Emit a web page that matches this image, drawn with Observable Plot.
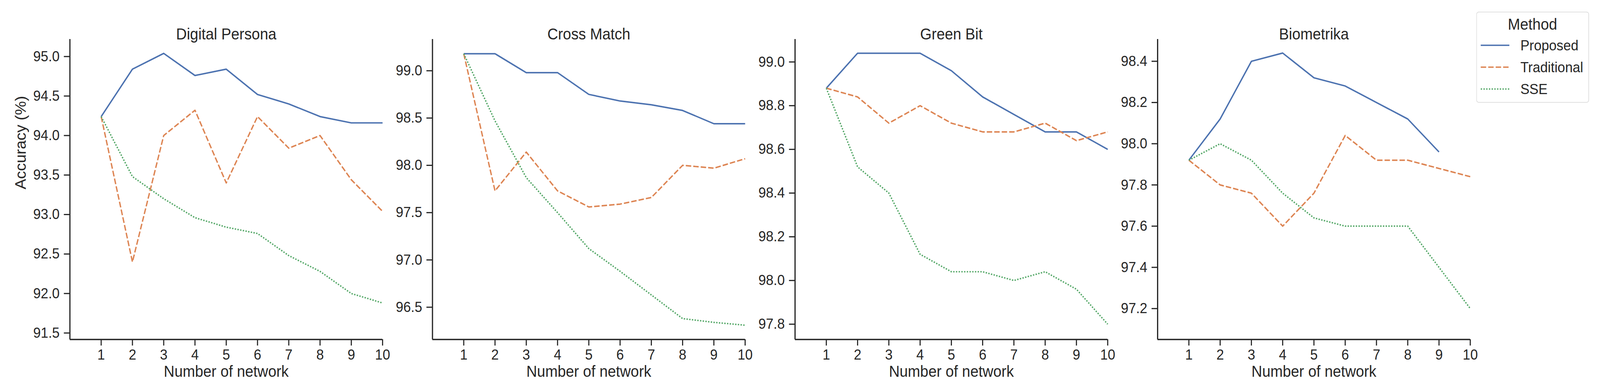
<!DOCTYPE html>
<html><head><meta charset="utf-8">
<script src="https://cdn.jsdelivr.net/npm/d3@7"></script>
<script src="https://cdn.jsdelivr.net/npm/@observablehq/plot@0.6"></script>
<style>
html,body{margin:0;background:#fff;overflow:hidden;}
#wrap{position:relative;width:4360px;height:1004px;overflow:hidden;font-family:"Liberation Sans",Arial,sans-serif;color:#262626;background:#fff;transform-origin:0 0;}
#wrap svg{position:absolute;top:0;}
</style></head>
<body><div id="wrap"></div>
<script>
// ---- data ----
const networks = [1, 2, 3, 4, 5, 6, 7, 8, 9, 10];
const methods = ["Proposed", "Traditional", "SSE"];
const panelTitles = ["Digital Persona", "Cross Match", "Green Bit", "Biometrika"];

const dpProposed    = [94.24, 94.84, 95.04, 94.76, 94.84, 94.52, 94.40, 94.24, 94.16, 94.16];
const dpTraditional = [94.24, 92.40, 94.00, 94.32, 93.40, 94.24, 93.84, 94.00, 93.44, 93.04];
const dpSSE         = [94.24, 93.48, 93.20, 92.96, 92.84, 92.76, 92.48, 92.28, 92.00, 91.88];

const cmProposed    = [99.18, 99.18, 98.98, 98.98, 98.75, 98.68, 98.64, 98.58, 98.44, 98.44];
const cmTraditional = [99.18, 97.73, 98.14, 97.73, 97.56, 97.59, 97.66, 98.00, 97.97, 98.07];
const cmSSE         = [99.18, 98.47, 97.87, 97.50, 97.12, 96.88, 96.63, 96.38, 96.34, 96.31];

const gbProposed    = [98.88, 99.04, 99.04, 99.04, 98.96, 98.84, 98.76, 98.68, 98.68, 98.60];
const gbTraditional = [98.88, 98.84, 98.72, 98.80, 98.72, 98.68, 98.68, 98.72, 98.64, 98.68];
const gbSSE         = [98.88, 98.52, 98.40, 98.12, 98.04, 98.04, 98.00, 98.04, 97.96, 97.80];

const bmProposed    = [97.92, 98.12, 98.40, 98.44, 98.32, 98.28, 98.20, 98.12, 97.96, null];
const bmTraditional = [97.92, 97.80, 97.76, 97.60, 97.76, 98.04, 97.92, 97.92, 97.88, 97.84];
const bmSSE         = [97.92, 98.00, 97.92, 97.76, 97.64, 97.60, 97.60, 97.60, 97.40, 97.20];

const dpTicks = [91.5, 92.0, 92.5, 93.0, 93.5, 94.0, 94.5, 95.0];
const cmTicks = [96.5, 97.0, 97.5, 98.0, 98.5, 99.0];
const gbTicks = [97.8, 98.0, 98.2, 98.4, 98.6, 98.8, 99.0];
const bmTicks = [97.2, 97.4, 97.6, 97.8, 98.0, 98.2, 98.4];

const dpDomain = [91.418, 95.219];
const cmDomain = [96.159, 99.333];
const gbDomain = [97.730, 99.104];
const bmDomain = [97.050, 98.507];

// ---- styles ----
const ink = "#262626";
const colors = ["#4C72B0", "#DD8452", "#55A868"];
const dashes = [null, "14.8,5.55", "3.7,3.7"];
const font = "'Liberation Sans', Arial, sans-serif";
const lefts = [190, 1178, 2166, 3154];
const frameW = 852, mT = 100, mB = 135, H = 1004, W = 4360;

const panels = [
  {title: panelTitles[0], series: [dpProposed, dpTraditional, dpSSE], ticks: dpTicks, domain: dpDomain},
  {title: panelTitles[1], series: [cmProposed, cmTraditional, cmSSE], ticks: cmTicks, domain: cmDomain},
  {title: panelTitles[2], series: [gbProposed, gbTraditional, gbSSE], ticks: gbTicks, domain: gbDomain},
  {title: panelTitles[3], series: [bmProposed, bmTraditional, bmSSE], ticks: bmTicks, domain: bmDomain}
];

const wrap = document.getElementById("wrap");
// the window may be narrower than the 4360px design: fit horizontally
const vw = window.innerWidth || W;
if (vw < W) wrap.style.transform = `scaleX(${vw / W})`;

panels.forEach((p, k) => {
  const mL = k === 0 ? 190 : 130, mR = 20;
  const data = [];
  methods.forEach((m, j) => p.series[j].forEach((v, i) => data.push({n: networks[i], v, m})));
  const marks = [
    Plot.axisX({ticks: networks, tickSize: 16, tickPadding: 9, strokeWidth: 3, label: null, tickFormat: d3.format("d")}),
    Plot.axisY({ticks: p.ticks, tickSize: 16, tickPadding: 12, strokeWidth: 3, label: null, tickFormat: d3.format(".1f")}),
    Plot.ruleX([0], {stroke: ink, strokeWidth: 3.3}),
    Plot.ruleY([p.domain[0]], {stroke: ink, strokeWidth: 3.3}),
    ...methods.map((m, j) => Plot.line(data.filter(d => d.m === m && d.v != null), {
      x: "n", y: "v", stroke: colors[j], strokeWidth: 3.7,
      strokeDasharray: dashes[j], strokeLinecap: "butt", strokeLinejoin: "round"
    })),
    Plot.text([p.title], {text: d => d, frameAnchor: "top", dy: -28, fontSize: 40.3, fill: ink}),
    Plot.text(["Number of network"], {text: d => d, frameAnchor: "bottom", dy: 95, fontSize: 40.3, fill: ink})
  ];
  if (k === 0) {
    marks.push(Plot.text(["Accuracy (%)"], {text: d => d, frameAnchor: "left", dx: -133, rotate: -90, fontSize: 40.3, fill: ink}));
  }
  const svg = Plot.plot({
    width: mL + frameW + mR,
    height: H,
    marginLeft: mL, marginRight: mR, marginTop: mT, marginBottom: mB,
    x: {domain: [0, 10]},
    y: {domain: p.domain},
    style: {color: ink, background: "transparent", fontFamily: font, fontSize: "37px", overflow: "visible", maxWidth: "none"},
    marks
  });
  svg.style.left = (lefts[k] - mL) + "px";
  wrap.appendChild(svg);
});

// ---- legend ----
const lg = d3.select(wrap).append("svg")
  .attr("width", 308).attr("height", 234)
  .style("left", "4023px").style("top", "30px");
lg.append("rect").attr("x", 0.75).attr("y", 0.75).attr("width", 305.5).attr("height", 231.5)
  .attr("rx", 6).attr("fill", "rgba(255,255,255,0.8)").attr("stroke", "#d6d6d6").attr("stroke-width", 1.5);
lg.append("text").attr("x", 153).attr("y", 46).attr("text-anchor", "middle")
  .attr("font-family", font).attr("font-size", 40.3).attr("fill", ink).text("Method");
methods.forEach((m, j) => {
  const y = 86 + j * 56;
  lg.append("line").attr("x1", 12).attr("x2", 90).attr("y1", y).attr("y2", y)
    .attr("stroke", colors[j]).attr("stroke-width", 3.7)
    .attr("stroke-dasharray", dashes[j]).attr("stroke-linecap", "butt");
  lg.append("text").attr("x", 120).attr("y", y + 13)
    .attr("font-family", font).attr("font-size", 37).attr("fill", ink).text(m);
});
</script></body></html>
